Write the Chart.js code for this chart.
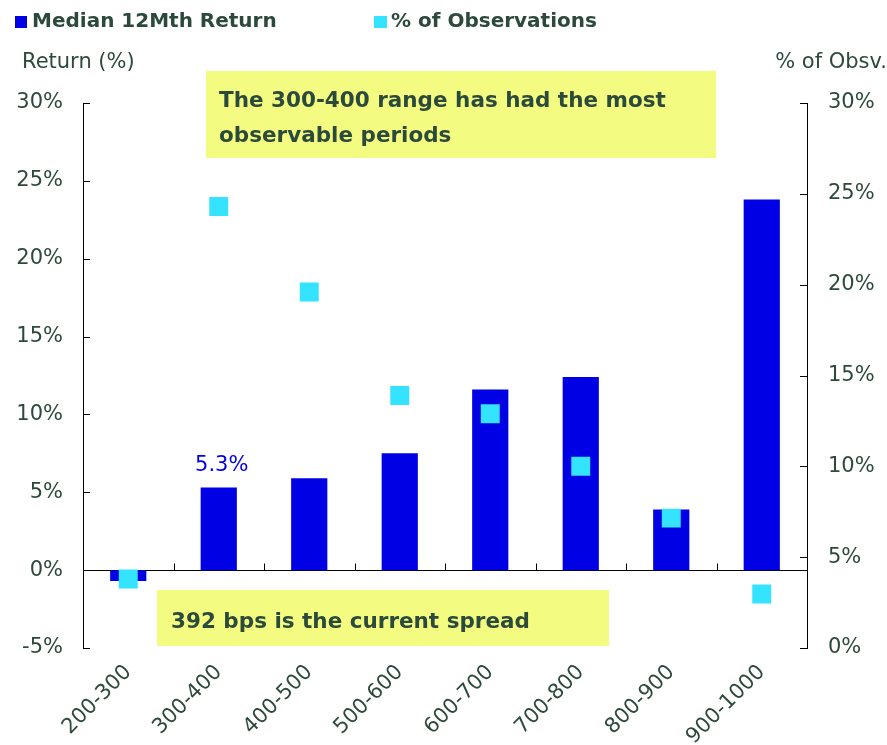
<!DOCTYPE html>
<html>
<head>
<meta charset="utf-8">
<script src="https://cdn.jsdelivr.net/npm/chart.js@4/dist/chart.umd.min.js"></script>
<style>
  body { margin: 0; background: #fff; }
  #wrap { width: 887px; height: 745px; }
</style>
</head>
<body>
<div id="wrap"><canvas id="grafico" width="887" height="745"></canvas></div>
<script>
// Dados do gráfico
const faixas = ['200-300', '300-400', '400-500', '500-600', '600-700', '700-800', '800-900', '900-1000'];
const retornoMediano = [-0.7, 5.3, 5.9, 7.5, 11.6, 12.4, 3.9, 23.8];
const pctObservacoes = [3.8, 24.3, 19.6, 13.9, 12.9, 10.0, 7.15, 2.97];
const ticksRetorno = [-5, 0, 5, 10, 15, 20, 25, 30];
const ticksObs = [0, 5, 10, 15, 20, 25, 30];

const corTexto = '#2C4A3B';
const corBarra = '#0000E4';
const corQuadrado = '#33E3FF';
const corCaixa = '#F3FC80';
const fonte = '"DejaVu Sans", sans-serif';

// Plugin para eixos, legenda e anotações
const extras = {
    id: 'extras',
    beforeDatasetsDraw(chart) {
        const ctx = chart.ctx;
        const area = chart.chartArea;
        const y = chart.scales.y;
        const y1 = chart.scales.y1;
        const x = chart.scales.x;
        ctx.save();
        ctx.strokeStyle = '#000';
        ctx.lineWidth = 1;
        // linha do zero
        const y0 = Math.round(y.getPixelForValue(0)) + 0.5;
        ctx.beginPath();
        ctx.moveTo(area.left, y0);
        ctx.lineTo(area.right, y0);
        ctx.stroke();
        // marcas entre categorias
        for (let i = 1; i < faixas.length; i++) {
            const xp = Math.round((x.getPixelForValue(i - 1) + x.getPixelForValue(i)) / 2) + 0.5;
            ctx.beginPath();
            ctx.moveTo(xp, y0);
            ctx.lineTo(xp, y0 - 7);
            ctx.stroke();
        }
        // marcas dos eixos
        ticksRetorno.forEach(v => {
            const yp = Math.round(y.getPixelForValue(v)) + 0.5;
            ctx.beginPath();
            ctx.moveTo(area.left, yp);
            ctx.lineTo(area.left + 7, yp);
            ctx.stroke();
        });
        ticksObs.forEach(v => {
            const yp = Math.round(y1.getPixelForValue(v)) + 0.5;
            ctx.beginPath();
            ctx.moveTo(area.right, yp);
            ctx.lineTo(area.right - 7, yp);
            ctx.stroke();
        });
        ctx.restore();
    },
    afterDatasetsDraw(chart) {
        const ctx = chart.ctx;
        ctx.save();
        // rótulo da barra 300-400
        const barra = chart.getDatasetMeta(0).data[1];
        ctx.fillStyle = corBarra;
        ctx.font = '21px ' + fonte;
        ctx.textAlign = 'center';
        ctx.textBaseline = 'alphabetic';
        ctx.fillText(retornoMediano[1].toFixed(1) + '%', barra.x + 3, barra.y - 17);

        // caixas amarelas
        ctx.fillStyle = corCaixa;
        ctx.fillRect(206, 71, 510, 87);
        ctx.fillRect(157, 590, 452, 56);
        ctx.fillStyle = corTexto;
        ctx.font = 'bold 21.5px ' + fonte;
        ctx.textAlign = 'left';
        ctx.fillText('The 300-400 range has had the most', 219, 107);
        ctx.fillText('observable periods', 219, 142);
        ctx.fillText('392 bps is the current spread', 171, 628);

        // legenda
        ctx.fillStyle = corBarra;
        ctx.fillRect(15, 16, 12, 12);
        ctx.fillStyle = corQuadrado;
        ctx.fillRect(374, 16, 13, 12);
        ctx.fillStyle = corTexto;
        ctx.font = 'bold 20px ' + fonte;
        ctx.textBaseline = 'middle';
        ctx.fillText('Median 12Mth Return', 32, 22);
        ctx.fillText('% of Observations', 391, 22);

        // títulos dos eixos
        ctx.font = '21px ' + fonte;
        ctx.fillText('Return (%)', 22, 63);
        ctx.textAlign = 'right';
        ctx.fillText('% of Obsv.', 887, 63);
        ctx.restore();
    }
};

new Chart(document.getElementById('grafico'), {
    data: {
        labels: faixas,
        datasets: [
            {
                type: 'bar',
                label: 'Median 12Mth Return',
                data: retornoMediano,
                backgroundColor: corBarra,
                borderWidth: 0,
                barPercentage: 0.4,
                categoryPercentage: 1.0,
                yAxisID: 'y',
                order: 1
            },
            {
                type: 'line',
                label: '% of Observations',
                data: pctObservacoes,
                showLine: false,
                pointStyle: 'rect',
                pointRadius: 13.4,
                pointHoverRadius: 13.4,
                pointBackgroundColor: corQuadrado,
                pointBorderWidth: 0,
                yAxisID: 'y1',
                order: 0
            }
        ]
    },
    options: {
        responsive: false,
        animation: false,
        layout: { padding: { top: 103, left: 0, right: 0, bottom: 0 } },
        plugins: {
            legend: { display: false },
            tooltip: { enabled: false }
        },
        scales: {
            x: {
                offset: true,
                grid: { display: false },
                border: { display: false },
                ticks: {
                    color: corTexto,
                    font: { family: fonte, size: 21 },
                    maxRotation: 45,
                    minRotation: 45,
                    padding: 4
                },
                afterFit(scale) { scale.height = 97; }
            },
            y: {
                position: 'left',
                min: -5,
                max: 30,
                grid: { display: false, drawTicks: false },
                border: { display: true, color: '#000', width: 1 },
                ticks: {
                    stepSize: 5,
                    color: corTexto,
                    font: { family: fonte, size: 21 },
                    padding: 20,
                    callback: v => v + '%'
                },
                afterFit(scale) { scale.width = 83; }
            },
            y1: {
                position: 'right',
                min: 0,
                max: 30,
                grid: { display: false, drawTicks: false },
                border: { display: true, color: '#000', width: 1 },
                ticks: {
                    stepSize: 5,
                    color: corTexto,
                    font: { family: fonte, size: 21 },
                    padding: 21,
                    callback: v => v + '%'
                },
                afterFit(scale) { scale.width = 80; }
            }
        }
    },
    plugins: [extras]
});
</script>
</body>
</html>
